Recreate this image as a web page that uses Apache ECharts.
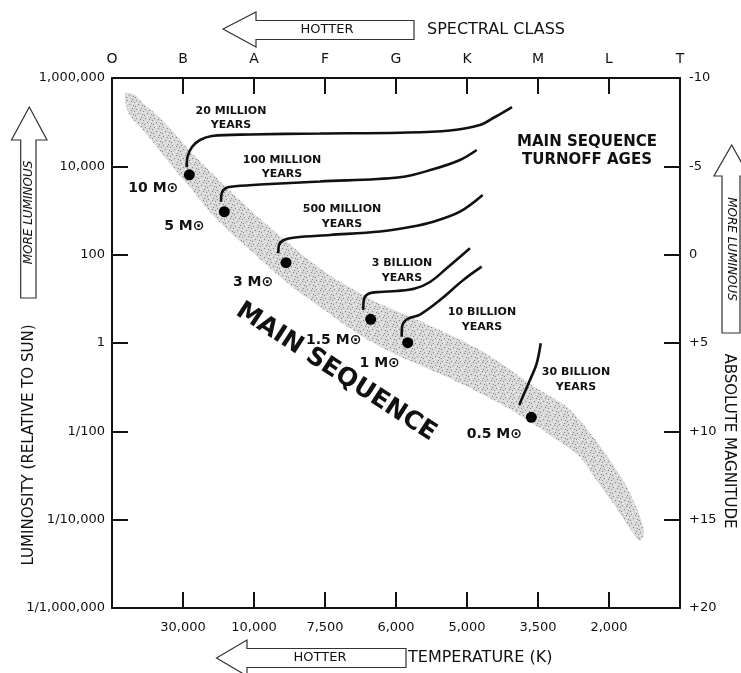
<!DOCTYPE html>
<html><head><meta charset="utf-8">
<script src="https://cdn.jsdelivr.net/npm/echarts@6/dist/echarts.min.js"></script>
<style>html,body{margin:0;padding:0;background:#fff}#c{width:741px;height:673px}</style>
</head><body><div id="c"></div>
<script>
// ---- data (x = spectral-class index O=0 … T=8, y = log10 luminosity relative to Sun)
const spectralClasses = ['O','B','A','F','G','K','M','L','T'];
const temperatureLabels = ['', '30,000','10,000','7,500','6,000','5,000','3,500','2,000',''];
const luminosityLabels = {'6':'1,000,000','4':'10,000','2':'100','0':'1','-2':'1/100','-4':'1/10,000','-6':'1/1,000,000'};

const massNames = ['10 M⊙','5 M⊙','3 M⊙','1.5 M⊙','1 M⊙','0.5 M⊙'];
const massX    = [1.089, 1.582, 2.451, 3.644, 4.165, 5.906];
const massLogL = [3.808, 2.973, 1.818, 0.537, 0.007, -1.682];

const track20M = [[1.052,3.978],[1.063,4.211],[1.127,4.438],[1.239,4.596],[1.408,4.687],[1.944,4.721],[2.930,4.743],[4.056,4.762],[4.761,4.811],[5.183,4.936],[5.394,5.117],[5.634,5.343]];
const track100M = [[1.535,3.199],[1.545,3.385],[1.615,3.516],[1.732,3.548],[2.085,3.589],[2.930,3.657],[4.056,3.752],[4.521,3.933],[4.901,4.143],[5.137,4.370]];
const track500M = [[2.342,2.031],[2.352,2.219],[2.423,2.332],[2.577,2.389],[3.070,2.445],[3.775,2.525],[4.197,2.626],[4.525,2.746],[4.901,2.973],[5.221,3.351]];
const track3B = [[3.539,0.747],[3.549,0.996],[3.620,1.121],[3.775,1.155],[4.010,1.177],[4.268,1.234],[4.479,1.381],[4.714,1.691],[5.042,2.144]];
const track10B = [[4.080,0.143],[4.085,0.362],[4.151,0.532],[4.338,0.645],[4.620,0.974],[4.948,1.426],[5.207,1.728]];
const track30B = [[5.737,-1.404],[5.785,-1.216],[5.887,-0.838],[5.982,-0.460],[6.038,-0.007]];

const bandUpper = [[0.197,5.660],[0.324,5.615],[0.437,5.434],[0.676,5.094],[0.915,4.687],[1.099,4.347],[1.380,3.894],[1.592,3.555],[1.845,3.170],[2.085,2.808],[2.465,2.287],[2.789,1.857],[3.169,1.426],[3.493,1.132],[3.775,0.883],[4.239,0.566],[4.704,0.226],[5.183,-0.158],[5.535,-0.521],[5.887,-0.928],[6.408,-1.449],[6.690,-1.947],[6.972,-2.558],[7.254,-3.260],[7.437,-3.940],[7.493,-4.302],[7.437,-4.483]];
const bandLower = [[0.183,5.502],[0.254,5.140],[0.437,4.823],[0.676,4.347],[0.915,3.872],[1.141,3.442],[1.380,2.966],[1.662,2.513],[1.944,2.106],[2.254,1.653],[2.577,1.223],[2.930,0.815],[3.282,0.408],[3.634,0.045],[4.014,-0.272],[4.718,-0.770],[5.183,-1.132],[5.648,-1.540],[6.127,-2.038],[6.592,-2.581],[6.831,-3.125],[7.056,-3.623],[7.338,-4.302]];

// ---- layout / style
const massLabelOffsets = [[-36,14],[-40,15],[-33,20],[-37,21],[-28,21],[-37,17]];
const FONT = '"DejaVu Sans", sans-serif';
const INK = '#111';

function makeStipple(){
  const c = document.createElement('canvas'); c.width = 9; c.height = 9;
  const g = c.getContext('2d');
  g.fillStyle = '#d8d8d8'; g.fillRect(0,0,9,9);
  g.fillStyle = '#858585';
  [[1,1],[5,2],[3,5],[7,6],[0,7],[6,0],[8,3]].forEach(p=>g.fillRect(p[0],p[1],1,1));
  g.fillStyle = '#f4f4f4';
  [[3,1],[7,4],[1,4],[5,7],[2,8]].forEach(p=>g.fillRect(p[0],p[1],1,1));
  return c;
}
const stipple = makeStipple();

const axisLineStyle = {lineStyle:{color:INK, width:2}, onZero:false};
const tickStyle = {show:true, inside:true, length:16, lineStyle:{color:INK, width:2}};

function trackSeries(d){
  return {type:'line', xAxisIndex:1, yAxisIndex:0, data:d, smooth:0.35, smoothMonotone:'none',
    showSymbol:false, symbol:'none', lineStyle:{color:INK, width:2.6}, z:5, silent:true};
}

function txt(x, y, text, font, extra){
  return Object.assign({type:'text', x:x, y:y, silent:true,
    style:Object.assign({text:text, font:font, fill:INK, align:'center', verticalAlign:'middle'}, extra||{})});
}
function arrow(points){
  return {type:'polygon', shape:{points:points}, style:{fill:'#fff', stroke:'#333', lineWidth:1.2}, silent:true};
}

const chart = echarts.init(document.getElementById('c'), null, {renderer:'canvas'});
chart.setOption({
  animation:false,
  backgroundColor:'#fff',
  grid:{left:112, right:61, top:78, bottom:65, containLabel:false, outerBoundsMode:'none'},
  xAxis:[
    {type:'value', position:'top', min:0, max:8, interval:1,
     axisLine:axisLineStyle, axisTick:tickStyle, splitLine:{show:false},
     axisLabel:{margin:12, color:INK, fontFamily:FONT, fontSize:14, formatter:v=>spectralClasses[Math.round(v)]||''}},
    {type:'value', position:'bottom', min:0, max:8, interval:1,
     axisLine:axisLineStyle, axisTick:tickStyle, splitLine:{show:false},
     axisLabel:{margin:13, color:INK, fontFamily:FONT, fontSize:13, formatter:v=>temperatureLabels[Math.round(v)]||''}}
  ],
  yAxis:[
    {type:'value', position:'left', min:-6, max:6, interval:2,
     axisLine:axisLineStyle, axisTick:tickStyle, splitLine:{show:false},
     axisLabel:{margin:7, color:INK, fontFamily:FONT, fontSize:13, formatter:v=>luminosityLabels[String(Math.round(v))]||''}},
    {type:'value', position:'right', min:-10, max:20, interval:5, inverse:true,
     axisLine:axisLineStyle, axisTick:tickStyle, splitLine:{show:false},
     axisLabel:{margin:9, color:INK, fontFamily:FONT, fontSize:13, formatter:v=>v>0?('+'+v):String(v)}}
  ],
  series:[
    {type:'custom', xAxisIndex:1, yAxisIndex:0, data:[[0,0]], silent:true, z:1,
     renderItem:function(params, api){
       const pts = bandUpper.map(p=>api.coord(p)).concat(bandLower.slice().reverse().map(p=>api.coord(p)));
       return {type:'polygon', shape:{points:pts, smooth:0.25},
         style:{fill:{image:stipple, repeat:'repeat'}, stroke:null}};
     }},
    trackSeries(track20M), trackSeries(track100M), trackSeries(track500M),
    trackSeries(track3B), trackSeries(track10B), trackSeries(track30B),
    {type:'scatter', xAxisIndex:1, yAxisIndex:0, symbolSize:11, z:6, silent:true,
     itemStyle:{color:'#000', opacity:1},
     data:massX.map((x,i)=>({value:[x, massLogL[i]],
       label:{show:true, position:'inside', offset:massLabelOffsets[i], formatter:massNames[i],
         color:INK, opacity:1, fontFamily:FONT, fontWeight:'bold', fontSize:14}}))}
  ],
  graphic:[
    // top
    arrow([[223,29],[256,12],[256,20.5],[414,20.5],[414,39.5],[256,39.5],[256,47]]),
    txt(327,30,'HOTTER','13px '+FONT),
    txt(427,30,'SPECTRAL CLASS','16px '+FONT,{align:'left'}),
    // bottom
    arrow([[216.5,658],[247,640],[247,648.5],[406,648.5],[406,667.5],[247,667.5],[247,676]]),
    txt(320,658,'HOTTER','13px '+FONT),
    txt(408,658,'TEMPERATURE (K)','16px '+FONT,{align:'left'}),
    // left
    arrow([[29.3,107],[47,140],[36,140],[36,298],[20.7,298],[20.7,140],[11.5,140]]),
    Object.assign(txt(0,0,'MORE LUMINOUS','italic 12px '+FONT),{x:28.6, y:212.5, rotation:Math.PI/2}),
    Object.assign(txt(0,0,'LUMINOSITY (RELATIVE TO SUN)','15px '+FONT),{x:29, y:445, rotation:Math.PI/2}),
    // right
    arrow([[731.7,145],[749,176],[740,176],[740,333],[722,333],[722,176],[714,176]]),
    Object.assign(txt(0,0,'MORE LUMINOUS','italic 12px '+FONT),{x:731, y:249, rotation:-Math.PI/2}),
    Object.assign(txt(0,0,'ABSOLUTE MAGNITUDE','15px '+FONT),{x:729, y:441, rotation:-Math.PI/2}),
    // annotations
    txt(231,118,'20 MILLION\nYEARS','bold 11px '+FONT,{lineHeight:14}),
    txt(282,167,'100 MILLION\nYEARS','bold 11px '+FONT,{lineHeight:14}),
    txt(342,216.5,'500 MILLION\nYEARS','bold 11px '+FONT,{lineHeight:15}),
    txt(402,271,'3 BILLION\nYEARS','bold 11px '+FONT,{lineHeight:15}),
    txt(482,320,'10 BILLION\nYEARS','bold 11px '+FONT,{lineHeight:15}),
    txt(576,380,'30 BILLION\nYEARS','bold 11px '+FONT,{lineHeight:15}),
    txt(587,151,'MAIN SEQUENCE\nTURNOFF AGES','bold 15px '+FONT,{lineHeight:18}),
    Object.assign(txt(0,0,'MAIN SEQUENCE','bold 25px '+FONT),{x:336, y:372, rotation:-0.576})
  ]
});
</script></body></html>
